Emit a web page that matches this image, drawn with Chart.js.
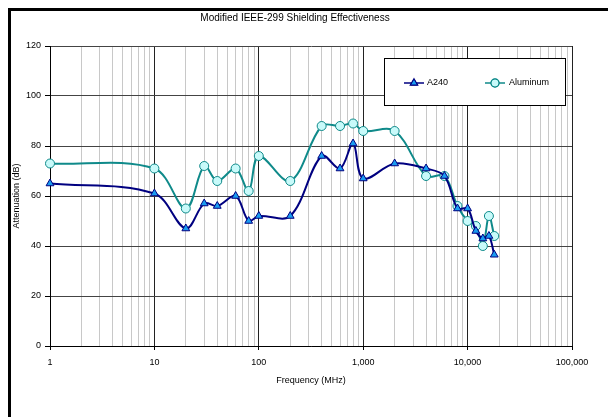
<!DOCTYPE html>
<html>
<head>
<meta charset="utf-8">
<script src="https://cdn.jsdelivr.net/npm/chart.js"></script>
<style>
  html, body { margin: 0; padding: 0; background: #fff; }
  #wrap { position: relative; width: 608px; height: 417px; }
</style>
</head>
<body>
<div id="wrap"><canvas id="myChart" width="608" height="417"></canvas></div>
<script>
// chart data
const chartTitle = 'Modified IEEE-299 Shielding Effectiveness';
const frequencies = [1, 10, 20, 30, 40, 60, 80, 100, 200, 400, 600, 800, 1000, 2000, 4000, 6000, 8000, 10000, 12000, 14000, 16000, 18000];
const a240 = [65, 61, 47, 57, 56, 60, 50, 52, 52, 76, 71, 81, 67, 73, 71, 68, 55, 55, 46, 43, 44, 36.5];
const aluminum = [73, 71, 55, 72, 66, 71, 62, 76, 66, 88, 88, 89, 86, 86, 68, 68, 56, 50, 48, 40, 52, 44];
const seriesNames = ['A240', 'Aluminum'];
const yTicks = [0, 20, 40, 60, 80, 100, 120];
const decades = [1, 10, 100, 1000, 10000, 100000];

Chart.defaults.font.family = "'Liberation Sans', Arial, sans-serif";
Chart.defaults.color = '#000';

function isDecade(v) {
  return decades.indexOf(v) !== -1;
}

function toPoints(ys) {
  return frequencies.map((f, i) => ({ x: f, y: ys[i] }));
}

// black frame of the chart area (top and left edge)
const framePlugin = {
  id: 'frame',
  beforeDraw(chart) {
    const c = chart.ctx;
    c.save();
    c.fillStyle = '#fff';
    c.fillRect(0, 0, chart.width, chart.height);
    c.fillStyle = '#000';
    c.fillRect(8, 8, chart.width - 8, 3);
    c.fillRect(8, 8, 3, chart.height - 8);
    c.restore();
  }
};

const titlePlugin = {
  id: 'mytitle',
  afterDraw(chart) {
    const c = chart.ctx;
    c.save();
    c.font = "10px 'Liberation Sans', Arial, sans-serif";
    c.fillStyle = '#000';
    c.textAlign = 'center';
    c.textBaseline = 'middle';
    c.fillText(chartTitle, 295, 18.5);
    c.restore();
  }
};

// legend box inside the plot, like the excel one
const legendPlugin = {
  id: 'boxlegend',
  afterDraw(chart) {
    const c = chart.ctx;
    c.save();
    c.fillStyle = '#fff';
    c.fillRect(384, 58, 181, 47);
    c.strokeStyle = '#000';
    c.lineWidth = 1;
    c.strokeRect(384.5, 58.5, 181, 47);
    const items = [{ x0: 404, x1: 424, tx: 427 }, { x0: 485, x1: 505, tx: 509 }];
    const y = 83;
    chart.data.datasets.forEach((ds, i) => {
      const it = items[i];
      c.strokeStyle = ds.borderColor;
      c.lineWidth = 1.5;
      c.beginPath();
      c.moveTo(it.x0, y);
      c.lineTo(it.x1, y);
      c.stroke();
      Chart.helpers.drawPoint(c, {
        pointStyle: ds.pointStyle,
        radius: ds.pointRadius - 0.5,
        borderWidth: ds.pointBorderWidth,
        rotation: 0
      }, (it.x0 + it.x1) / 2, y);
      c.fillStyle = ds.pointBackgroundColor;
      c.strokeStyle = ds.pointBorderColor;
      c.lineWidth = ds.pointBorderWidth;
      c.fill();
      c.stroke();
      c.fillStyle = '#000';
      c.font = "9px 'Liberation Sans', Arial, sans-serif";
      c.textAlign = 'left';
      c.textBaseline = 'middle';
      c.fillText(ds.label, it.tx, y);
    });
    c.restore();
  }
};

const ctx = document.getElementById('myChart');

new Chart(ctx, {
  type: 'line',
  data: {
    datasets: [{
      label: seriesNames[0],
      data: toPoints(a240),
      borderColor: '#000080',
      borderWidth: 2,
      pointStyle: 'triangle',
      pointRadius: 4.5,
      pointBackgroundColor: '#1a9cf0',
      pointBorderColor: '#000080',
      pointBorderWidth: 1,
      tension: 0.35,
      clip: false
    }, {
      label: seriesNames[1],
      data: toPoints(aluminum),
      borderColor: '#0f8a8a',
      borderWidth: 2,
      pointStyle: 'circle',
      pointRadius: 4.5,
      pointBackgroundColor: '#c8fafa',
      pointBorderColor: '#0f8a8a',
      pointBorderWidth: 1,
      tension: 0.35,
      clip: false
    }]
  },
  options: {
    responsive: false,
    animation: false,
    layout: { padding: { left: 0, right: 36, top: 46, bottom: 0 } },
    plugins: {
      legend: { display: false },
      title: { display: false },
      tooltip: { enabled: false }
    },
    scales: {
      x: {
        type: 'logarithmic',
        min: decades[0],
        max: decades[decades.length - 1],
        afterBuildTicks(scale) {
          const ticks = [];
          decades.forEach(d => {
            if (d === decades[decades.length - 1]) {
              ticks.push({ value: d, major: true });
              return;
            }
            for (let s = 1; s <= 9; s++) ticks.push({ value: d * s, major: s === 1 });
          });
          scale.ticks = ticks;
        },
        afterFit(scale) { scale.height = 71; },
        border: { color: '#000', width: 1 },
        grid: {
          color: c => (c.tick && isDecade(c.tick.value)) ? '#222' : '#c8c8c8',
          tickColor: c => (c.tick && isDecade(c.tick.value)) ? '#000' : 'rgba(0,0,0,0)',
          tickLength: 4,
          lineWidth: 1
        },
        ticks: {
          autoSkip: false,
          maxRotation: 0,
          padding: 7.6,
          font: { size: 9 },
          callback: v => isDecade(v) ? v.toLocaleString('en-US') : ''
        },
        title: {
          display: true,
          text: 'Frequency (MHz)',
          font: { size: 9 },
          padding: { top: 0, bottom: 30.6 }
        }
      },
      y: {
        min: yTicks[0],
        max: yTicks[yTicks.length - 1],
        afterFit(scale) { scale.width = 50; },
        border: { color: '#000', width: 1 },
        grid: {
          color: '#444',
          tickColor: '#000',
          tickLength: 5,
          lineWidth: 1
        },
        ticks: {
          stepSize: yTicks[1] - yTicks[0],
          padding: 4,
          font: { size: 9 }
        },
        title: {
          display: true,
          text: 'Attenuation (dB)',
          font: { size: 9 },
          padding: { top: 11.6, bottom: 0 }
        }
      }
    }
  },
  plugins: [framePlugin, titlePlugin, legendPlugin]
});
</script>
</body>
</html>
